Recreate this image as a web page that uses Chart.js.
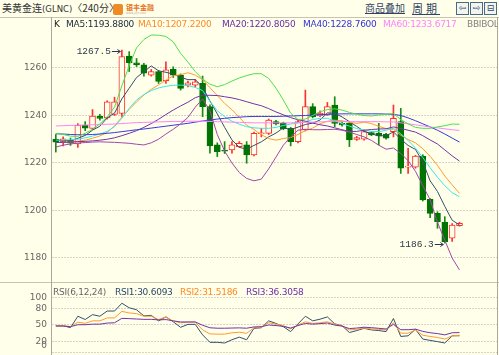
<!DOCTYPE html>
<html>
<head>
<meta charset="utf-8">
<script src="https://cdn.jsdelivr.net/npm/chart.js@4.4.1/dist/chart.umd.min.js"></script>
<style>
  body { margin: 0; background: #FFFFEA; }
  #wrap { position: relative; width: 499px; height: 355px; overflow: hidden; background: #FFFFEA; font-family: "DejaVu Sans", sans-serif; }
  .abs { position: absolute; white-space: nowrap; }
  canvas { position: absolute; left: 0; }
  .lg { position: absolute; font-size: 9px; letter-spacing: -0.25px; line-height: 11px; white-space: nowrap; }
  .hl { position: absolute; left: 0; width: 499px; height: 1px; background: #C8C4B4; }
  .vl { position: absolute; top: 17px; width: 1px; height: 338px; background: #ABA7A0; }
  .btn { position: absolute; top: 2px; width: 11px; height: 11px; border: 1px solid #4A6A8A; background: #F4F4EE; font: 9px "DejaVu Sans"; line-height: 11px; text-align: center; color: #2A4A6A; }
  .cn { font-family: "Noto Sans CJK SC", sans-serif; }
</style>
</head>
<body>
<div id="wrap">
  <canvas id="main" width="499" height="264" style="top:18px"></canvas>
  <canvas id="rsi" width="499" height="72" style="top:283px"></canvas>

  <div class="hl" style="top:17px"></div>
  <div class="hl" style="top:282px"></div>
  <div class="vl" style="left:51px"></div>
  <div class="vl" style="left:497px"></div>

  <div class="abs cn" style="left:2px;top:0px;font-size:10px;line-height:16px;color:#333">美黄金连<span style="font-family:'DejaVu Sans';font-size:8.5px">(GLNC)</span>〈240分〉</div>
  <div class="abs" style="left:113px;top:4px;width:10px;height:11px;background:#F08A24;border-radius:2px"></div>
  <div class="abs cn" style="left:126px;top:2px;font-size:7px;font-weight:bold;line-height:10px;color:#E8731A">银丰金融</div>
  <div class="abs" style="left:126px;top:11px;font-size:3px;line-height:4px;color:#B0A090">www.yfjr.com</div>

  <div class="abs cn" style="left:365px;top:0px;font-size:10px;line-height:16px;color:#2E4464;text-decoration:underline">商品叠加</div>
  <div class="abs cn" style="left:412px;top:0px;font-size:11px;line-height:16px;letter-spacing:3px;color:#2E4464;text-decoration:underline">周期</div>
  <div class="btn" style="left:456px">⇦</div>
  <div class="btn" style="left:470px">⇨</div>
  <div class="btn" style="left:484px">⊟</div>

  <div style="position:absolute;left:0;top:19px;width:497px;height:12px;overflow:hidden">
    <div class="lg" style="left:54px;color:#222">K</div>
    <div class="lg" style="left:66px;color:#1A2A3A">MA5:1193.8800</div>
    <div class="lg" style="left:138px;color:#FF8A24">MA10:1207.2200</div>
    <div class="lg" style="left:222px;color:#6A2EA8">MA20:1220.8050</div>
    <div class="lg" style="left:303px;color:#3434D8">MA40:1228.7600</div>
    <div class="lg" style="left:383px;color:#FF80FF">MA60:1233.6717</div>
    <div class="lg" style="left:467px;color:#808080">BBIBOLL</div>
  </div>

  <div class="lg" style="left:53px;top:287px;color:#666">RSI(6,12,24)</div>
  <div class="lg" style="left:115px;top:287px;color:#2A4A6A">RSI1:30.6093</div>
  <div class="lg" style="left:180px;top:287px;color:#FF8A24">RSI2:31.5186</div>
  <div class="lg" style="left:246px;top:287px;color:#6A2EA8">RSI3:36.3058</div>
  <div class="lg" style="right:452px;top:340px;color:#666;letter-spacing:0">0</div>
</div>

<script>
// candles (index 0 = leftmost bar)
const opens = [
  1230.0, 1229.0, 1229.6, 1228.0, 1236.0, 1234.6, 1239.6, 1239.0, 1240.5, 1240.9,
  1265.0, 1262.2, 1261.3, 1257.0, 1258.5, 1254.7, 1259.4, 1257.0, 1252.8, 1252.8,
  1253.5, 1243.7, 1227.6, 1225.2, 1225.5, 1226.9, 1227.6, 1223.4, 1232.3, 1232.5,
  1237.4, 1236.7, 1234.6, 1229.0, 1233.9, 1243.7, 1239.8, 1240.2, 1244.4, 1236.7,
  1236.7, 1229.9, 1230.0, 1232.8, 1232.5, 1232.1, 1233.2, 1237.4, 1218.2, 1218.2,
  1222.9, 1204.7, 1198.8, 1195.0, 1188.3, 1193.6
];
const highs = [
  1232.0, 1231.0, 1230.5, 1236.6, 1237.4, 1242.5, 1240.5, 1246.2, 1247.7, 1267.5,
  1266.9, 1264.0, 1262.0, 1259.4, 1259.0, 1262.6, 1260.5, 1257.5, 1254.5, 1255.2,
  1256.6, 1244.5, 1228.5, 1229.0, 1229.0, 1229.0, 1229.0, 1233.0, 1234.6, 1238.5,
  1238.0, 1237.2, 1235.0, 1238.0, 1250.7, 1245.0, 1242.0, 1245.5, 1247.9, 1237.3,
  1237.0, 1231.2, 1234.0, 1233.1, 1236.7, 1232.5, 1244.4, 1243.0, 1226.2, 1223.2,
  1223.5, 1205.0, 1199.5, 1197.4, 1194.5, 1195.0
];
const lows = [
  1224.6, 1227.2, 1227.4, 1226.6, 1233.6, 1234.0, 1238.0, 1238.5, 1240.0, 1239.6,
  1258.5, 1260.6, 1256.6, 1256.6, 1253.5, 1253.5, 1256.0, 1250.7, 1252.0, 1252.0,
  1239.5, 1224.1, 1222.7, 1224.0, 1224.1, 1226.5, 1219.9, 1223.0, 1231.0, 1232.0,
  1236.0, 1234.0, 1227.2, 1228.5, 1233.5, 1239.0, 1239.5, 1240.0, 1235.3, 1235.5,
  1226.9, 1229.5, 1229.6, 1231.5, 1227.6, 1230.0, 1231.0, 1215.6, 1215.6, 1217.8,
  1204.0, 1197.0, 1192.5, 1186.3, 1187.0, 1193.4
];
const closes = [
  1228.8, 1230.2, 1228.3, 1235.9, 1234.7, 1239.8, 1238.8, 1245.8, 1245.8, 1264.8,
  1262.2, 1261.3, 1257.8, 1258.5, 1254.3, 1259.2, 1257.0, 1251.4, 1253.8, 1254.2,
  1243.7, 1227.2, 1224.8, 1225.0, 1227.6, 1228.3, 1223.4, 1232.5, 1232.7, 1238.1,
  1236.4, 1234.4, 1229.0, 1237.4, 1243.7, 1239.5, 1241.0, 1243.7, 1236.7, 1236.0,
  1229.7, 1230.7, 1233.2, 1231.8, 1231.4, 1230.4, 1238.8, 1217.8, 1218.7, 1222.9,
  1204.4, 1198.8, 1195.3, 1186.9, 1193.9, 1194.6
];

// overlay lines
const ma5 = [
  1229.6, 1229.5, 1229.3, 1230.4, 1231.6, 1233.8, 1235.5, 1239.0, 1241.0, 1247.0,
  1251.5, 1256.0, 1258.4, 1260.9, 1258.8, 1258.2, 1257.4, 1256.1, 1255.1, 1255.1,
  1252.0, 1246.1, 1240.7, 1235.0, 1229.7, 1226.6, 1225.8, 1227.4, 1228.9, 1231.0,
  1232.6, 1234.8, 1234.1, 1235.1, 1236.2, 1236.8, 1238.1, 1241.1, 1240.9, 1239.4,
  1237.4, 1235.4, 1233.3, 1232.3, 1231.4, 1231.5, 1233.1, 1230.0, 1227.4, 1225.7,
  1220.5, 1212.5, 1208.0, 1201.7, 1195.9, 1193.9
];
const ma10 = [
  1228.6, 1228.7, 1228.8, 1229.2, 1229.6, 1230.4, 1231.4, 1232.9, 1235.6, 1239.3,
  1242.6, 1245.7, 1248.7, 1251.0, 1252.9, 1254.9, 1256.7, 1257.2, 1258.0, 1257.0,
  1255.1, 1251.7, 1248.4, 1245.1, 1242.4, 1239.3, 1235.9, 1234.1, 1231.9, 1230.3,
  1229.6, 1230.3, 1230.7, 1232.0, 1233.6, 1234.7, 1236.5, 1237.6, 1238.0, 1237.8,
  1237.1, 1236.7, 1237.2, 1236.6, 1235.4, 1234.5, 1234.2, 1231.7, 1229.9, 1228.5,
  1226.0, 1222.8, 1219.0, 1214.5, 1210.8, 1207.2
];
const ma20 = [
  1228.6, 1228.7, 1228.8, 1229.0, 1229.1, 1229.3, 1229.6, 1230.0, 1230.6, 1231.5,
  1232.5, 1233.6, 1235.0, 1236.6, 1238.4, 1240.4, 1242.3, 1244.0, 1245.6, 1247.5,
  1248.5, 1248.5, 1248.4, 1247.9, 1247.4, 1246.7, 1245.8, 1244.9, 1244.1, 1242.9,
  1241.5, 1240.3, 1239.1, 1238.2, 1237.6, 1236.8, 1236.1, 1235.6, 1234.8, 1234.0,
  1233.3, 1233.3, 1233.8, 1234.1, 1234.3, 1234.4, 1235.2, 1234.5, 1233.8, 1233.0,
  1231.5, 1229.7, 1228.0, 1225.5, 1223.0, 1220.8
];
const ma40 = [
  1232.3, 1232.2, 1232.0, 1231.9, 1231.9, 1232.0, 1232.2, 1232.5, 1232.8, 1233.2,
  1233.6, 1234.0, 1234.3, 1234.7, 1235.1, 1235.5, 1235.9, 1236.3, 1236.7, 1237.2,
  1237.7, 1238.1, 1238.5, 1238.8, 1239.1, 1239.3, 1239.5, 1239.6, 1239.6, 1239.6,
  1239.6, 1239.7, 1239.8, 1239.9, 1240.0, 1240.2, 1240.4, 1240.5, 1240.6, 1240.7,
  1240.7, 1240.7, 1240.7, 1240.7, 1240.7, 1240.6, 1240.5, 1240.0, 1239.0, 1237.8,
  1236.5, 1235.2, 1233.8, 1232.2, 1230.5, 1228.8
];
const ma60 = [
  1235.6, 1235.7, 1235.8, 1235.9, 1236.0, 1236.1, 1236.2, 1236.3, 1236.4, 1236.6,
  1236.8, 1237.0, 1237.1, 1237.2, 1237.3, 1237.4, 1237.5, 1237.5, 1237.6, 1237.6,
  1237.6, 1237.5, 1237.4, 1237.3, 1237.2, 1237.1, 1237.0, 1236.9, 1236.9, 1236.9,
  1236.9, 1236.9, 1236.9, 1237.0, 1237.1, 1237.2, 1237.3, 1237.4, 1237.4, 1237.4,
  1237.4, 1237.4, 1237.4, 1237.4, 1237.4, 1237.3, 1237.3, 1236.9, 1236.5, 1236.1,
  1235.6, 1235.2, 1234.8, 1234.4, 1234.0, 1233.7
];
const bbi = [
  1229.6, 1229.7, 1229.8, 1230.0, 1230.6, 1231.3, 1232.2, 1233.3, 1235.3, 1238.8,
  1243.0, 1246.5, 1248.8, 1250.5, 1251.6, 1252.3, 1252.7, 1252.8, 1252.6, 1251.8,
  1250.5, 1246.0, 1242.0, 1239.5, 1237.6, 1236.3, 1235.3, 1234.8, 1234.6, 1234.6,
  1235.0, 1235.8, 1236.4, 1236.8, 1237.4, 1238.3, 1238.8, 1238.8, 1237.8, 1236.6,
  1235.5, 1234.5, 1233.8, 1233.3, 1233.2, 1233.8, 1234.6, 1232.3, 1229.5, 1226.3,
  1222.3, 1218.0, 1214.0, 1210.4, 1207.5, 1205.8
];
const bollUp = [
  1232.5, 1232.0, 1231.3, 1231.2, 1232.5, 1234.2, 1236.5, 1239.5, 1243.5, 1252.5,
  1261.0, 1268.5, 1272.0, 1273.9, 1273.8, 1273.3, 1271.0, 1266.2, 1262.5, 1258.5,
  1255.3, 1253.2, 1252.1, 1253.0, 1254.5, 1255.8, 1256.8, 1257.6, 1257.6, 1255.6,
  1251.5, 1246.5, 1241.0, 1238.3, 1238.5, 1240.0, 1241.6, 1242.5, 1242.8, 1242.3,
  1241.3, 1240.5, 1240.0, 1239.8, 1240.2, 1240.5, 1240.8, 1238.3, 1236.5, 1235.0,
  1234.6, 1234.6, 1235.2, 1235.7, 1236.4, 1236.3
];
const bollDn = [
  1226.7, 1227.5, 1228.0, 1228.4, 1228.6, 1228.8, 1228.9, 1228.8, 1228.7, 1228.5,
  1228.3, 1227.9, 1227.6, 1228.5, 1230.0, 1232.2, 1234.2, 1236.5, 1239.2, 1243.5,
  1247.0, 1242.0, 1232.0, 1225.0, 1220.0, 1216.0, 1213.5, 1212.5, 1213.2, 1217.5,
  1222.5, 1227.5, 1231.0, 1233.8, 1234.2, 1234.0, 1234.0, 1234.1, 1234.2, 1233.8,
  1233.0, 1232.0, 1231.0, 1229.5, 1227.5, 1225.8, 1226.3, 1224.0, 1221.0, 1216.5,
  1210.5, 1204.5, 1195.0, 1187.5, 1180.0, 1175.0
];

// RSI(6,12,24)
const rsi1 = [
  48.7, 48.7, 45.2, 65.8, 59.9, 68.7, 65.8, 75.2, 75.2, 89.3,
  81.1, 77.5, 66.4, 67.5, 57.5, 64.6, 55.8, 45.8, 51.1, 51.1,
  32.2, 18.7, 18.7, 17.5, 23.4, 28.1, 23.4, 44.0, 45.0, 57.5,
  52.8, 47.0, 38.1, 52.0, 65.8, 57.5, 60.5, 64.6, 52.0, 48.7,
  36.4, 39.9, 44.0, 41.1, 40.0, 38.1, 61.7, 29.3, 30.5, 42.2,
  24.6, 22.2, 20.0, 17.5, 30.5, 30.6
];
const rsi2 = [
  48.7, 48.7, 47.0, 55.0, 53.0, 57.5, 57.5, 62.8, 62.8, 74.6,
  71.7, 70.5, 65.8, 65.8, 59.9, 64.6, 57.0, 54.0, 55.2, 55.2,
  41.1, 34.0, 33.5, 33.5, 36.0, 36.9, 35.0, 45.0, 46.0, 54.0,
  51.5, 49.0, 43.0, 50.0, 55.8, 52.8, 54.0, 55.8, 51.5, 48.1,
  41.1, 42.2, 44.5, 43.0, 42.0, 41.1, 54.0, 35.2, 35.2, 41.1,
  31.5, 29.3, 27.5, 24.6, 30.5, 31.5
];
const rsi3 = [
  48.1, 48.1, 47.0, 50.5, 50.5, 51.5, 51.5, 53.5, 54.0, 62.0,
  61.5, 60.8, 60.2, 60.2, 59.2, 59.8, 57.5, 55.5, 55.5, 55.5,
  49.5, 45.0, 44.2, 44.2, 44.5, 44.8, 44.2, 46.5, 47.0, 50.0,
  49.0, 47.5, 44.5, 49.0, 52.8, 51.5, 52.5, 53.5, 49.8, 48.0,
  43.5, 44.5, 46.0, 45.2, 44.0, 42.8, 51.1, 41.5, 41.5, 42.5,
  38.5, 36.0, 34.5, 32.2, 36.0, 36.3
];

const priceTicks = [1180, 1200, 1220, 1240, 1260];
const rsiTicks = [0, 20, 50, 80, 100];
const marks = [ { i: 9, v: highs[9] }, { i: 53, v: lows[53] } ];

const BG = '#FFFFEA';
const RED = '#FF3030';
const GREEN = '#007400';
const GREEN_WICK = '#168A16';
const FONT = { family: 'DejaVu Sans', size: 9 };

const idx = closes.map((c, i) => i);
const up = i => closes[i] >= opens[i];
const pts = arr => arr.map((v, i) => ({ x: i, y: v }));
const line = (arr, color) => ({
  type: 'line', order: 1, data: pts(arr), borderColor: color, borderWidth: 1,
  pointRadius: 0, tension: 0, fill: false
});

// bar charts turn on scale offset by default; keep the x mapping plain
const xScale = { type: 'linear', min: -0.52, max: 60.11, offset: false, display: false };
const yAxis = (min, max, ticks, label) => ({
  min, max,
  afterBuildTicks: s => { s.ticks = ticks.map(v => ({ value: v })); },
  afterFit: s => { s.width = 52; s.paddingTop = 0; s.paddingBottom = 0; },
  ticks: { font: FONT, color: '#666', padding: 5, callback: label },
  grid: { color: '#D6D4C8', drawTicks: false },
  border: { display: false, dash: [2, 1] }
});
const base = {
  responsive: false, animation: false, devicePixelRatio: 1, events: [],
  layout: { padding: { left: 0, right: 2, top: 0, bottom: 0 } },
  plugins: { legend: { display: false }, tooltip: { enabled: false } }
};

const markPlugin = {
  id: 'marks',
  afterDatasetsDraw(chart) {
    const { ctx, scales: { x, y } } = chart;
    ctx.save();
    ctx.strokeStyle = '#2A3848';
    ctx.fillStyle = '#2A3848';
    ctx.lineWidth = 1;
    ctx.font = '9.5px "Liberation Mono"';
    ctx.textAlign = 'right';
    ctx.textBaseline = 'middle';
    marks.forEach(m => {
      const px = x.getPixelForValue(m.i);
      const py = Math.round(y.getPixelForValue(m.v)) + 1.5;
      const end = px - 1.5, start = px - 10;
      ctx.beginPath();
      ctx.moveTo(start, py); ctx.lineTo(end, py);
      ctx.moveTo(end - 3, py - 2); ctx.lineTo(end, py); ctx.lineTo(end - 3, py + 2);
      ctx.stroke();
      ctx.fillText(m.v.toFixed(1), start - 1, py);
    });
    ctx.restore();
  }
};

new Chart(document.getElementById('main'), {
  data: {
    datasets: [
      {
        type: 'bar', order: 3, grouped: false, barThickness: 1,
        data: idx.map(i => ({ x: i, y: [lows[i], highs[i]] })),
        backgroundColor: idx.map(i => up(i) ? RED : GREEN_WICK), borderWidth: 0
      },
      {
        type: 'bar', order: 2, grouped: false, barThickness: 6, minBarLength: 1,
        data: idx.map(i => ({ x: i, y: [opens[i], closes[i]] })),
        backgroundColor: idx.map(i => up(i) ? BG : GREEN),
        borderColor: idx.map(i => up(i) ? RED : GREEN),
        borderWidth: 1, borderSkipped: false
      },
      line(bollUp, '#4CE04C'),
      line(bollDn, '#A048A8'),
      line(ma60, '#FF80FF'),
      line(ma40, '#3838E0'),
      line(ma20, '#7034A8'),
      line(bbi, '#3CE6E6'),
      line(ma10, '#FF9A30'),
      line(ma5, '#34506C')
    ]
  },
  options: {
    ...base,
    scales: { x: xScale, y: yAxis(1169.89, 1281.05, priceTicks, v => String(v)) }
  },
  plugins: [markPlugin]
});

new Chart(document.getElementById('rsi'), {
  data: {
    datasets: [
      line(rsi3, '#7034A8'),
      line(rsi2, '#FF9A30'),
      line(rsi1, '#34506C')
    ]
  },
  options: {
    ...base,
    scales: { x: xScale, y: yAxis(-4.15, 125.8, rsiTicks, v => v === 0 ? '' : String(v)) }
  }
});
</script>
</body>
</html>
